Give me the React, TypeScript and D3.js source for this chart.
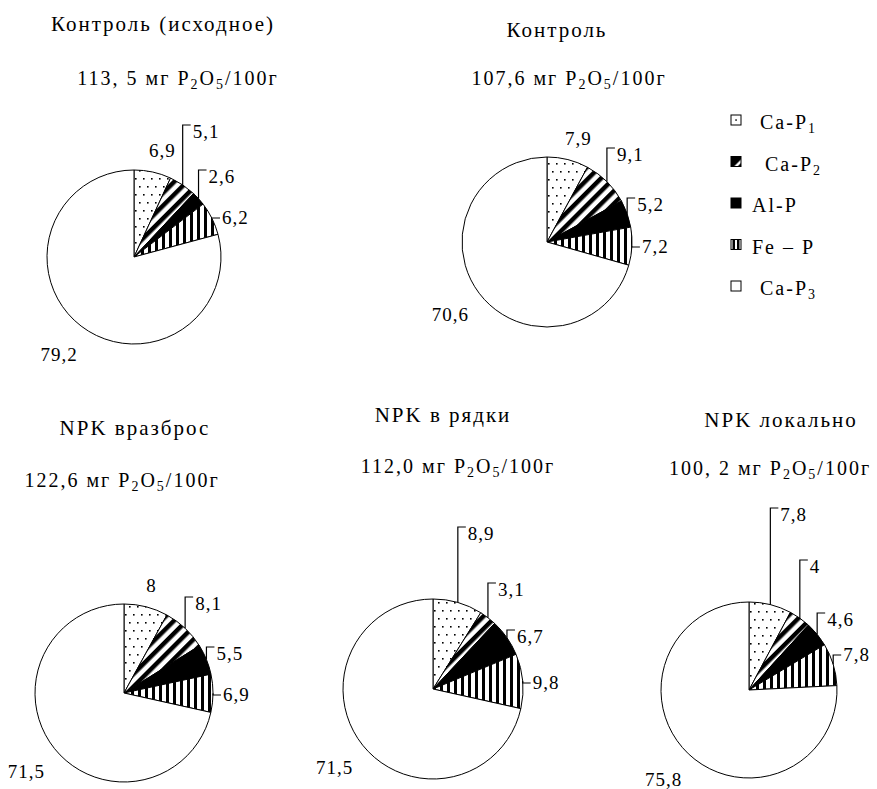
import React from 'react';
import * as d3 from 'd3';

// ---- data ----
const fractionBase = ['Ca-P', 'Ca-P', 'Al-P', 'Fe – P', 'Ca-P'];
const fractionSub = ['1', '2', '', '', '3'];
const fractionIds = ['dots', 'diag', 'solid', 'vert', 'white'];

const chartTitles = ['Контроль (исходное)', 'Контроль', 'NPK вразброс', 'NPK в рядки', 'NPK локально'];
const chartTotals = ['113, 5', '107,6', '122,6', '112,0', '100, 2'];

const valuesControlInitial = [6.9, 5.1, 2.6, 6.2, 79.2];
const valuesControl = [7.9, 9.1, 5.2, 7.2, 70.6];
const valuesBroadcast = [8, 8.1, 5.5, 6.9, 71.5];
const valuesRows = [8.9, 3.1, 6.7, 9.8, 71.5];
const valuesLocal = [7.8, 4, 4.6, 7.8, 75.8];

const allValues = [valuesControlInitial, valuesControl, valuesBroadcast, valuesRows, valuesLocal];

// ---- layout (positions / styles) ----
type LabelSpec = { t: 'out'; off: number; dx?: number } | { t: 'elbow' | 'h'; y: number };
const layout: { cx: number; cy: number; r: number; tx: number; ty: number; sx: number; sy: number; labels: LabelSpec[] }[] = [
  { cx: 134, cy: 257, r: 87, tx: 163, ty: 31, sx: 178, sy: 85,
    labels: [{ t: 'out', off: 22, dx: 5 }, { t: 'elbow', y: -132 }, { t: 'elbow', y: -87 }, { t: 'h', y: -39 }, { t: 'out', off: 36 }] },
  { cx: 547, cy: 242, r: 85, tx: 557, ty: 37, sx: 569, sy: 85,
    labels: [{ t: 'out', off: 22, dx: 5 }, { t: 'elbow', y: -94 }, { t: 'elbow', y: -44 }, { t: 'h', y: 5 }, { t: 'out', off: 36 }] },
  { cx: 124, cy: 693, r: 89, tx: 135, ty: 435, sx: 122, sy: 487,
    labels: [{ t: 'out', off: 22 }, { t: 'elbow', y: -96 }, { t: 'elbow', y: -46 }, { t: 'h', y: 2 }, { t: 'out', off: 36 }] },
  { cx: 433, cy: 689, r: 90, tx: 443, ty: 422, sx: 458, sy: 473,
    labels: [{ t: 'elbow', y: -162 }, { t: 'elbow', y: -106 }, { t: 'elbow', y: -59 }, { t: 'h', y: -6 }, { t: 'out', off: 36 }] },
  { cx: 749, cy: 690, r: 88, tx: 781, ty: 427, sx: 770, sy: 475,
    labels: [{ t: 'elbow', y: -182 }, { t: 'elbow', y: -130 }, { t: 'elbow', y: -77 }, { t: 'h', y: -35 }, { t: 'out', off: 36 }] },
];

const legendX = 731;
const legendTop = 115;
const legendStep = 41.5;
const legendTextX = [760, 765, 752, 752, 760];

const FONT = "'Liberation Serif', serif";

const fmt = (v: number) => String(v).replace('.', ',');

function Subtitle({ x, y, total }: { x: number; y: number; total: string }) {
  return (
    <text x={x} y={y} textAnchor="middle" fontSize={20} letterSpacing={2} style={{ fontFamily: FONT }}>
      {total} мг P<tspan dy={4} fontSize={14}>2</tspan><tspan dy={-4}>O</tspan>
      <tspan dy={4} fontSize={14}>5</tspan><tspan dy={-4}>/100г</tspan>
    </text>
  );
}

export default function App() {
  const pieGen = d3.pie<number>().sort(null).value((d) => d);
  const tStyle = { fontFamily: FONT };
  return (
    <svg width={877} height={789} style={{ position: 'absolute', left: 0, top: 0, fontFamily: FONT }}>
      <defs>
        <pattern id="dots" patternUnits="userSpaceOnUse" width={8} height={16}>
          <rect width={8} height={16} fill="#fff" />
          <rect x={1} y={1} width={1.6} height={1.6} fill="#000" />
          <rect x={5} y={9} width={1.6} height={1.6} fill="#000" />
        </pattern>
        <pattern id="diag" patternUnits="userSpaceOnUse" width={9} height={9} patternTransform="rotate(45)">
          <rect width={9} height={9} fill="#fff" />
          <rect width={4.5} height={9} fill="#000" />
        </pattern>
        <pattern id="vert" patternUnits="userSpaceOnUse" width={7} height={7}>
          <rect width={7} height={7} fill="#fff" />
          <rect width={3} height={7} fill="#000" />
        </pattern>
        <pattern id="lg-dots" patternUnits="objectBoundingBox" width={1} height={1}>
          <rect width={10} height={10} fill="#fff" />
          <rect x={4.3} y={4.3} width={1.5} height={1.5} fill="#000" />
        </pattern>
        <pattern id="lg-diag" patternUnits="objectBoundingBox" width={1} height={1}>
          <rect width={10} height={10} fill="#000" />
          <path d="M10,3 L10,10 L3,10 Z" fill="#fff" />
          <path d="M10,6.5 L10,10 L6.5,10 Z" fill="#000" />
        </pattern>
        <pattern id="lg-vert" patternUnits="objectBoundingBox" width={1} height={1}>
          <rect width={10} height={10} fill="#fff" />
          <rect x={1.5} width={2.5} height={10} fill="#000" />
          <rect x={6} width={2.5} height={10} fill="#000" />
        </pattern>
      </defs>
      <rect width={877} height={789} fill="#fff" />

      {allValues.map((vals, i) => {
        const L = layout[i];
        const arcs = pieGen(vals);
        const arc = d3.arc<d3.PieArcDatum<number>>().innerRadius(0).outerRadius(L.r);
        const rim = d3.arc<d3.PieArcDatum<number>>().innerRadius(L.r).outerRadius(L.r);
        return (
          <g key={i}>
            <text x={L.tx} y={L.ty} textAnchor="middle" fontSize={21} letterSpacing={2} style={tStyle}>
              {chartTitles[i]}
            </text>
            <Subtitle x={L.sx} y={L.sy} total={chartTotals[i]} />
            <g transform={`translate(${L.cx},${L.cy})`}>
              {arcs.map((a, j) => {
                const id = fractionIds[j];
                const fill = id === 'solid' ? '#000' : id === 'white' ? '#fff' : `url(#${id})`;
                return <path key={j} d={arc(a) || ''} fill={fill} stroke="#000" strokeWidth={1} />;
              })}
              {arcs.map((a, j) => {
                const spec = L.labels[j];
                const txt = fmt(vals[j]);
                if (spec.t === 'out') {
                  const ring = d3.arc<d3.PieArcDatum<number>>().innerRadius(L.r + spec.off).outerRadius(L.r + spec.off);
                  const [x, y] = ring.centroid(a);
                  return (
                    <text key={'l' + j} x={x + (spec.dx || 0)} y={y} textAnchor="middle" dominantBaseline="central" fontSize={19} letterSpacing={1} style={tStyle}>
                      {txt}
                    </text>
                  );
                }
                const [ax, ay] = rim.centroid(a);
                const p = d3.path();
                p.moveTo(ax, ay);
                p.lineTo(ax, spec.y);
                p.lineTo(ax + 8, spec.y);
                return (
                  <g key={'l' + j}>
                    <path d={p.toString()} fill="none" stroke="#000" strokeWidth={1.2} />
                    <text x={ax + 10} y={spec.y + (spec.t === 'elbow' ? 13 : 6)} fontSize={19} letterSpacing={1} style={tStyle}>
                      {txt}
                    </text>
                  </g>
                );
              })}
            </g>
          </g>
        );
      })}

      {fractionIds.map((id, k) => {
        const y = legendTop + k * legendStep;
        const fill = id === 'solid' ? '#000' : id === 'white' ? '#fff' : `url(#lg-${id})`;
        return (
          <g key={id}>
            <rect x={legendX} y={y} width={10} height={10} fill={fill} stroke="#000" strokeWidth={1} />
            <text x={legendTextX[k]} y={y + 14} fontSize={20} letterSpacing={2} style={tStyle}>
              {fractionBase[k]}
              {fractionSub[k] && <tspan dy={4} fontSize={14}>{fractionSub[k]}</tspan>}
            </text>
          </g>
        );
      })}
    </svg>
  );
}
